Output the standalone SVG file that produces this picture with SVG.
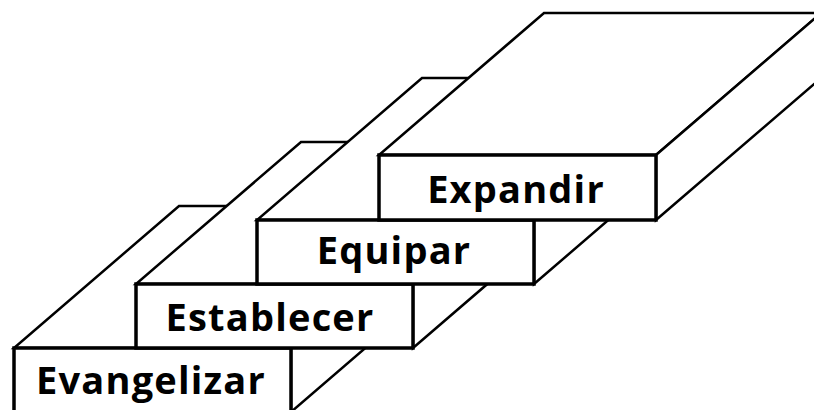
<svg xmlns="http://www.w3.org/2000/svg" width="814" height="410" viewBox="0 0 814 410">
<style>
.face{fill:#fff;stroke:#000;stroke-width:2.5;stroke-linejoin:miter}
.front{fill:#fff;stroke:#000;stroke-width:3.5}
.lbl{font-family:"Open Sans","DejaVu Sans",sans-serif;font-weight:700;font-size:38px;letter-spacing:1.2px;text-anchor:middle;fill:#000}
</style>
<rect width="814" height="410" fill="#fff"/>
<g id="evangelizar">
<polygon class="face" points="14,348 291,348 456,206 179,206"/>
<polygon class="face" points="291,348 456,206 456,270 291,412"/>
<rect class="front" x="14" y="348" width="277" height="64"/>
<text class="lbl" x="151" y="394">Evangelizar</text>
</g>
<g id="establecer">
<polygon class="face" points="136,284 413,284 578,142 301,142"/>
<polygon class="face" points="413,284 578,142 578,206 413,348"/>
<rect class="front" x="136" y="284" width="277" height="64"/>
<text class="lbl" x="270" y="331">Establecer</text>
</g>
<g id="equipar">
<polygon class="face" points="257,220 534,220 699,78 422,78"/>
<polygon class="face" points="534,220 699,78 699,142 534,284"/>
<rect class="front" x="257" y="220" width="277" height="64"/>
<text class="lbl" x="394" y="264">Equipar</text>
</g>
<g id="expandir">
<polygon class="face" points="379,155 656,155 821,13 544,13"/>
<polygon class="face" points="656,155 821,13 821,78 656,220"/>
<rect class="front" x="379" y="155" width="277" height="65"/>
<text class="lbl" x="516" y="203">Expandir</text>
</g>
</svg>
